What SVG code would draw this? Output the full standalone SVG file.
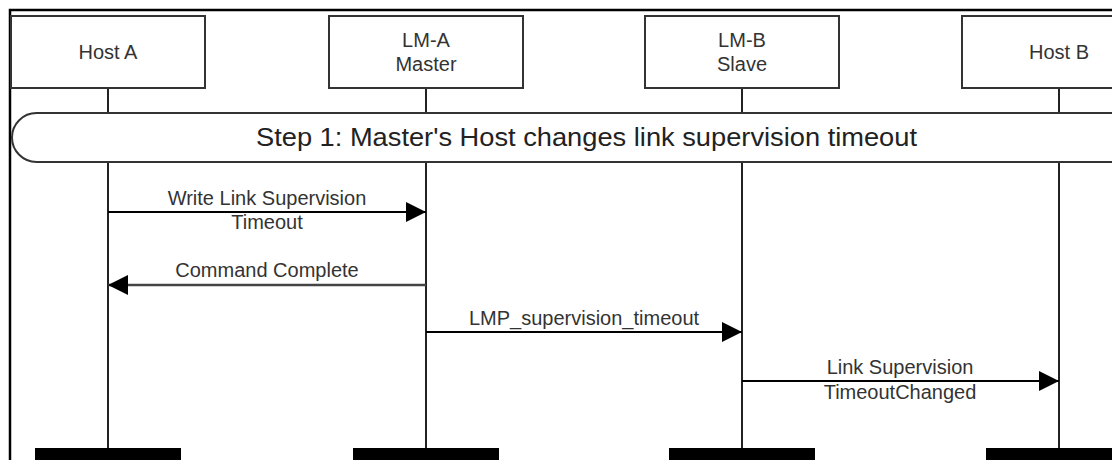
<svg xmlns="http://www.w3.org/2000/svg" width="1112" height="460" viewBox="0 0 1112 460">
<style>
.frame{fill:none;stroke:#000;stroke-width:2.5}
.box{fill:#fff;stroke:#333;stroke-width:2}
.life{stroke:#222;stroke-width:2}
.msg{stroke:#000;stroke-width:2;fill:none}
.lbl{font-family:"Liberation Sans",Arial,sans-serif;font-size:20px;fill:#333;text-anchor:middle}
.step{font-family:"Liberation Sans",Arial,sans-serif;font-size:25px;fill:#222}
.bar{fill:#000}
</style>
<defs>
<marker id="ah" markerUnits="userSpaceOnUse" markerWidth="20" markerHeight="20" refX="20" refY="10" orient="auto">
<path d="M0,0 L20,10 L0,20 Z" fill="#000"/>
</marker>
</defs>
<rect class="frame" x="10" y="10" width="1200" height="500"/>
<g id="lifelines">
<line class="life" x1="108" y1="88" x2="108" y2="450"/>
<line class="life" x1="426" y1="88" x2="426" y2="450"/>
<line class="life" x1="742" y1="88" x2="742" y2="450"/>
<line class="life" x1="1059" y1="88" x2="1059" y2="450"/>
</g>
<g id="hostA">
<rect class="box" x="11" y="16" width="194" height="72"/>
<text class="lbl" x="108" y="59">Host A</text>
<rect class="bar" x="35" y="448" width="146" height="14"/>
</g>
<g id="lmA">
<rect class="box" x="329" y="16" width="194" height="72"/>
<text class="lbl" x="426" y="47">LM-A</text>
<text class="lbl" x="426" y="71">Master</text>
<rect class="bar" x="353" y="448" width="146" height="14"/>
</g>
<g id="lmB">
<rect class="box" x="645" y="16" width="194" height="72"/>
<text class="lbl" x="742" y="47">LM-B</text>
<text class="lbl" x="742" y="71">Slave</text>
<rect class="bar" x="669" y="448" width="146" height="14"/>
</g>
<g id="hostB">
<rect class="box" x="962" y="16" width="194" height="72"/>
<text class="lbl" x="1059" y="59">Host B</text>
<rect class="bar" x="986" y="448" width="146" height="14"/>
</g>
<g id="step1">
<rect class="box" x="12" y="113" width="1200" height="49" rx="24.5" ry="24.5"/>
<text class="step" x="256" y="146" textLength="661" lengthAdjust="spacingAndGlyphs">Step 1: Master's Host changes link supervision timeout</text>
</g>
<g id="connectors">
<line class="msg" x1="108" y1="212" x2="426" y2="212" marker-end="url(#ah)"/>
<text class="lbl" x="267" y="205">Write Link Supervision</text>
<text class="lbl" x="267" y="229">Timeout</text>
<line class="msg" x1="426" y1="285" x2="108" y2="285" marker-end="url(#ah)" style="stroke:#444;stroke-width:2.5"/>
<text class="lbl" x="267" y="277">Command Complete</text>
<line class="msg" x1="426" y1="332" x2="742" y2="332" marker-end="url(#ah)"/>
<text class="lbl" x="584" y="325">LMP_supervision_timeout</text>
<line class="msg" x1="742" y1="381" x2="1059" y2="381" marker-end="url(#ah)"/>
<text class="lbl" x="900" y="374">Link Supervision</text>
<text class="lbl" x="900" y="399">TimeoutChanged</text>
</g>
</svg>
